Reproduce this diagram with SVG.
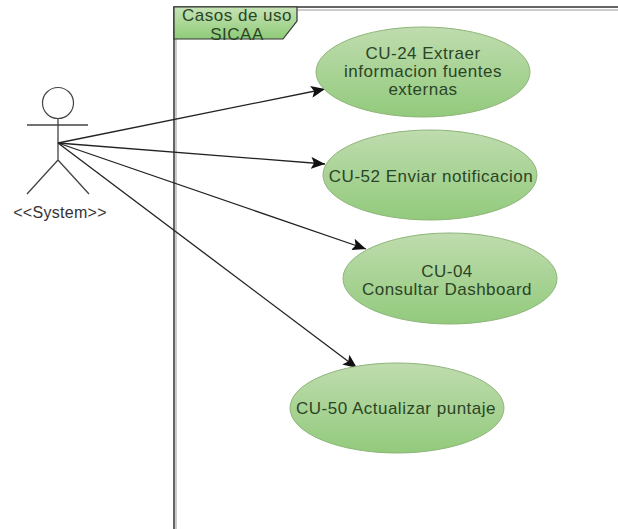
<svg xmlns="http://www.w3.org/2000/svg" width="618" height="529" viewBox="0 0 618 529">
<style>
.uc{fill:url(#g);stroke:#8fb57a;stroke-width:1}
.t{font-family:"Liberation Sans",Arial,sans-serif;font-size:17px;letter-spacing:.5px;fill:#2a4526;text-anchor:middle}
.c{fill:none;stroke:#222;stroke-width:1.3;marker-end:url(#a)}
.s{fill:none;stroke:#444;stroke-width:1.3}
</style>
<defs>
<linearGradient id="g" x1="0" y1="0" x2="0" y2="1"><stop offset="0" stop-color="#bfdcae"/><stop offset="1" stop-color="#92ca7c"/></linearGradient>
<linearGradient id="g2" x1="0" y1="0" x2="0" y2="1"><stop offset="0" stop-color="#c6e3b6"/><stop offset="1" stop-color="#8fcb78"/></linearGradient>
<marker id="a" markerUnits="userSpaceOnUse" markerWidth="16" markerHeight="12" refX="14" refY="6" orient="auto"><path d="M0 0L14 6L0 12L3 6Z" fill="#111"/></marker>
</defs>
<rect width="618" height="529" fill="#fff"/>
<g id="frame">
<path d="M176 529V10H618" fill="none" stroke="#ccc" stroke-width="2"/>
<path d="M174 529V7H618" fill="none" stroke="#333" stroke-width="1.5"/>
<path d="M174 7H297V21L283 39H174Z" fill="url(#g2)" stroke="#333" stroke-width="1.2"/>
<text class="t" x="237" y="21">Casos de uso</text>
<text class="t" x="237" y="40">SICAA</text>
</g>
<g id="actor">
<circle cx="58" cy="103" r="15.5" fill="#fff" stroke="#444" stroke-width="1.2"/>
<path class="s" d="M58 119V160M27 125H88M58 160L27 194M58 160L89 194"/>
<text class="t" x="60" y="218" style="font-size:16px;letter-spacing:.3px;fill:#333">&lt;&lt;System&gt;&gt;</text>
</g>
<g id="connectors">
<path class="c" d="M58 143L325 89"/>
<path class="c" d="M58 143L325 164"/>
<path class="c" d="M58 143L366 249"/>
<path class="c" d="M58 143L357 368"/>
</g>
<g id="cu24">
<ellipse class="uc" cx="423" cy="72" rx="107" ry="45"/>
<text class="t" x="423" y="59">CU-24 Extraer</text>
<text class="t" x="423" y="77">informacion fuentes</text>
<text class="t" x="423" y="95">externas</text>
</g>
<g id="cu52">
<ellipse class="uc" cx="430" cy="175" rx="107" ry="45"/>
<text class="t" x="431" y="182">CU-52 Enviar notificacion</text>
</g>
<g id="cu04">
<ellipse class="uc" cx="450" cy="278.500" rx="107" ry="45.500"/>
<text class="t" x="447" y="277">CU-04</text>
<text class="t" x="447" y="295">Consultar Dashboard</text>
</g>
<g id="cu50">
<ellipse class="uc" cx="397" cy="408" rx="107" ry="45"/>
<text class="t" x="396" y="414">CU-50 Actualizar puntaje</text>
</g>
</svg>
